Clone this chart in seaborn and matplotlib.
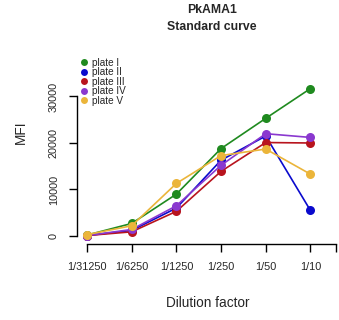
import matplotlib
matplotlib.use('Agg')
import matplotlib.pyplot as plt
from matplotlib.lines import Line2D
import seaborn as sns
import pandas as pd

# Standard curve readings (MFI) per plate
dilutions = ['1/31250', '1/6250', '1/1250', '1/250', '1/50', '1/10']
plate_1 = [200, 2700, 9000, 18800, 25300, 31700]
plate_2 = [100, 1200, 6000, 16300, 21500, 5500]
plate_3 = [100, 900, 5300, 13900, 20100, 20000]
plate_4 = [100, 1400, 6500, 15200, 22000, 21200]
plate_5 = [300, 2200, 11300, 17300, 18700, 13300]
plates = ['plate I', 'plate II', 'plate III', 'plate IV', 'plate V']
plate_colors = ['#1f8a1f', '#0a0acd', '#b8141e', '#8a38cf', '#ebb53a']

sns.set_style('white')
plt.rcParams['font.family'] = ['Liberation Sans', 'DejaVu Sans']

rows = []
for name, vals in zip(plates, [plate_1, plate_2, plate_3, plate_4, plate_5]):
    for i, v in enumerate(vals):
        rows.append({'pos': i + 1, 'MFI': v, 'plate': name})
df = pd.DataFrame(rows)

fig = plt.figure(figsize=(3.39, 3.2), dpi=100)
ax = fig.add_axes([77 / 339, 1 - 244 / 320, (339 - 77) / 339, (244 - 20) / 320])

sns.lineplot(data=df, x='pos', y='MFI', hue='plate', palette=plate_colors,
             marker='o', markersize=6.5, markeredgewidth=0, linewidth=1.2,
             legend=False, ax=ax)

ax.set_xlim(0.776, 6.64)
ax.set_ylim(-1720, 46450)

for s in ['top', 'right']:
    ax.spines[s].set_visible(False)
for s in ['left', 'bottom']:
    ax.spines[s].set_color('black')
    ax.spines[s].set_linewidth(1)
ax.spines['left'].set_bounds(0, 30000)
ax.spines['bottom'].set_bounds(1, 6.58)

ax.set_xticks([1, 2, 3, 4, 5, 6, 6.58])
ax.set_xticklabels(dilutions + [''])
ax.set_yticks([0, 10000, 20000, 30000])
ax.set_yticklabels(['0', '10000', '20000', '30000'], rotation=90, va='center')
ax.tick_params(axis='both', direction='out', length=6, width=1, color='black',
               labelsize=7.8, pad=7, left=True, bottom=True)

ax.set_xlabel('Dilution factor', fontsize=9.8, labelpad=17)
ax.set_ylabel('MFI', fontsize=9.8, labelpad=15)

fig.text(212 / 339, 1 - 18.5 / 320, 'PkAMA1\nStandard curve', ha='center', va='center',
         fontsize=8.8, fontweight='bold', linespacing=1.45)

handles = [Line2D([], [], linestyle='none', marker='o', markersize=5,
                  markeredgewidth=0, color=c) for c in plate_colors]
ax.legend(handles, plates, loc='upper left', bbox_to_anchor=(81 / 339, 1 - 57.5 / 320),
          bbox_transform=fig.transFigure, frameon=False, fontsize=7.2,
          labelspacing=-0.04, handlelength=0.6, handletextpad=0.55, borderpad=0,
          borderaxespad=0)

fig.savefig('out.png', dpi=100)
